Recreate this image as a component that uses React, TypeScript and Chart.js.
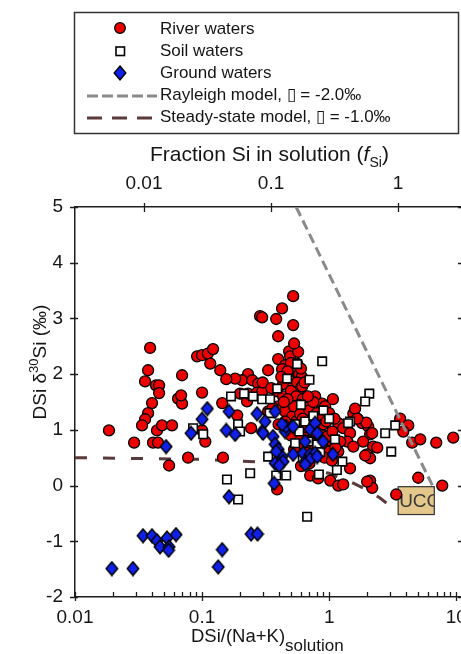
import React, { useEffect, useRef } from "react";
import { Chart, registerables } from "chart.js";

Chart.register(...registerables);

document.body.style.margin = "0";
document.body.style.overflow = "hidden";

// ---------- data ----------
const X_TICKS = [0.01, 0.1, 1, 10];
const TOP_TICKS = [0.01, 0.1, 1];
const Y_TICKS = [-2, -1, 0, 1, 2, 3, 4, 5];
const X_MIN = 0.01;
const X_MAX = 11.1;
const Y_MIN = -2;
const Y_MAX = 5;
const FSI_FACTOR = 3.49; // f_Si = DSi/(Na+K) / factor (top axis)

const riverWaters: [number, number][] = [
  [0.0185, 0.99], [0.039, 2.47], [0.0376, 2.07], [0.0356, 1.87], [0.0434, 1.8], [0.0459, 1.8],
  [0.0459, 1.66], [0.0404, 1.48], [0.0376, 1.3], [0.0356, 1.19], [0.0337, 1.08], [0.0292, 0.77],
  [0.0442, 0.99], [0.0484, 1.08], [0.058, 1.08], [0.0411, 0.77], [0.045, 0.77], [0.055, 0.36],
  [0.0696, 1.98], [0.0647, 1.56], [0.0696, 1.47], [0.0684, 1.62], [0.1, 1.67], [0.0914, 2.32],
  [0.1, 2.34], [0.111, 2.37], [0.122, 2.45], [0.116, 2.19], [0.139, 2.07], [0.144, 1.48],
  [0.106, 0.79], [0.0776, 0.5], [0.146, 0.5], [0.1, 0.99], [0.189, 1.26], [0.243, 1.03],
  [0.226, 1.51], [0.23, 2.0], [0.206, 1.89], [0.182, 1.92], [0.155, 1.91], [0.286, 3.04],
  [0.521, 3.4], [0.426, 3.18], [0.383, 2.99], [0.297, 3.02], [0.521, 2.88], [0.397, 2.68],
  [0.484, 2.41], [0.248, 1.89], [0.276, 1.83], [0.331, 2.07], [0.397, 2.27], [0.45, 2.16],
  [0.493, 2.32], [0.56, 2.19], [0.426, 2.09], [0.476, 1.94], [0.434, 1.82], [0.521, 1.78],
  [0.199, 1.65], [0.23, 1.65], [0.271, 1.67], [0.297, 1.69], [0.39, 1.69], [0.434, 1.6],
  [0.511, 1.51], [0.56, 1.65], [0.331, 1.33], [0.397, 1.42], [0.45, 1.33], [0.511, 1.24],
  [0.493, 1.06], [0.39, -0.07],
  [0.54, 2.05], [0.58, 2.0], [0.61, 1.95], [0.56, 1.85], [0.6, 1.75], [0.5, 1.7], [0.55, 1.6],
  [0.62, 1.55], [0.58, 1.45], [0.65, 1.4], [0.53, 1.42], [0.47, 1.55], [0.6, 1.3], [0.68, 1.25],
  [0.72, 1.2], [0.64, 1.15], [0.55, 1.15], [0.75, 1.1], [0.8, 1.05], [0.7, 1.0], [0.62, 0.95],
  [0.85, 0.95], [0.9, 0.9], [0.78, 0.85], [0.95, 0.8], [0.7, 0.8], [0.6, 0.75],
  [0.613, 1.78], [0.776, 1.6], [0.881, 1.47], [0.591, 1.28], [0.93, 1.42], [1.07, 1.55],
  [1.55, 1.29], [1.69, 1.19], [1.82, 1.12], [2.03, 1.06], [2.1, 0.92], [1.85, 0.79], [2.22, 0.7],
  [1.18, 1.12], [1.29, 1.03], [1.46, 0.94], [1.39, 0.79], [1.55, 0.7], [1.22, 0.79], [0.964, 0.88],
  [1.06, 0.97], [0.982, 0.61], [1.18, 0.61], [1.46, 0.31], [1.99, 0.56], [2.1, 0.49],
  [0.709, 0.18], [0.819, 0.13], [1.02, 0.09], [1.18, 0.0], [1.29, 0.02], [2.1, 0.09],
  [2.18, -0.04], [1.99, 0.07],
  [3.62, 1.2], [4.19, 1.08], [3.83, 0.97], [4.5, 0.77], [5.21, 0.83], [6.96, 0.77], [9.47, 0.86],
  [1.96, 1.13], [2.18, 0.94], [1.92, 0.54], [5.02, 0.14], [7.76, 0.0], [3.37, -0.16], [1.6, 1.38],
  [1.66, 1.2], [2.39, 0.68],
  [0.6, 2.1], [0.62, 1.2], [0.66, 1.05], [0.7, 1.35], [0.75, 1.5], [0.8, 1.3], [0.85, 1.2],
  [0.9, 1.1], [0.78, 0.95], [0.88, 0.75], [0.95, 1.15], [1.0, 1.3], [1.1, 1.2], [0.72, 0.7],
  [0.65, 0.6], [0.82, 0.55], [0.92, 0.5], [1.05, 0.45], [0.58, 0.85], [0.53, 0.65], [1.12, 0.68],
  [0.7, 0.4], [0.6, 0.35], [0.5, 0.9], [0.45, 1.15], [0.4, 1.1], [0.36, 1.4], [0.44, 1.5],
  [0.57, 2.4], [0.53, 2.55], [0.5, 2.2], [0.47, 2.05], [0.64, 1.85], [0.68, 1.6], [0.42, 1.95],
  [0.3, 1.85], [0.35, 1.75],
];

const soilWaters: [number, number][] = [
  [0.881, 2.23], [2.07, 1.65], [1.92, 1.51], [3.31, 1.08], [2.76, 0.94], [3.08, 0.61], [1.46, 1.15],
  [0.239, 0.22], [0.383, 0.18], [0.459, 0.18], [0.671, -0.56], [0.157, 0.11], [0.192, -0.25],
  [0.331, 0.52], [0.192, 1.1], [0.199, 0.97], [0.085, 1.03], [0.102, 0.92], [0.169, 1.6],
  [0.214, 1.65], [0.252, 1.6], [0.297, 1.55], [0.343, 1.55], [0.39, 1.74], [0.467, 1.92],
  [0.56, 2.18], [0.34, 1.3], [1.41, 1.12], [1.11, 0.83], [0.54, 1.1], [0.581, 0.97], [0.647, 1.15],
  [0.684, 0.79], [0.805, 0.74], [0.54, 0.76], [1.27, 0.43], [0.83, 0.2], [0.6, 1.45], [0.7, 1.9],
  [0.75, 1.25], [0.9, 1.35], [1.0, 1.2], [0.85, 0.6], [0.62, 0.5], [1.15, 0.28],
];

const groundWaters: [number, number][] = [
  [0.0195, -1.49], [0.0286, -1.49], [0.0343, -0.9], [0.0404, -0.9], [0.0442, -0.99], [0.0467, -1.1],
  [0.053, -0.94], [0.055, -1.1], [0.0545, -1.16], [0.0624, -0.88], [0.134, -1.46], [0.144, -1.15],
  [0.163, -0.2], [0.243, -0.87], [0.273, -0.87], [0.0521, 0.7], [0.11, 1.38], [0.1, 1.19],
  [0.0819, 0.94], [0.163, 1.33], [0.155, 0.99], [0.182, 0.92], [0.369, 0.04], [0.297, 0.97],
  [0.362, 0.88], [0.376, 0.74], [0.397, 0.65], [0.426, 0.52], [0.39, 0.43], [0.521, 0.56],
  [0.45, 0.97], [0.459, 1.06], [0.521, 1.06], [0.709, 1.01], [0.776, 1.12], [0.805, 0.94],
  [0.897, 0.79], [0.647, 0.79], [0.624, 0.58], [0.709, 0.56], [0.776, 0.58], [1.07, 0.56],
  [0.647, 0.43], [0.271, 1.29], [0.313, 1.15], [0.302, 0.94], [0.376, 1.33], [0.426, 1.1],
  [0.383, 0.61], [0.434, 0.43], [0.376, 0.4], [0.404, 0.36], [0.709, 0.47], [0.805, 0.52],
  [0.647, 0.38],
];

const rayleighModel: [number, number][] = [
  [0.55, 5.0], [6.5, 0.0],
];

const steadyStateModel: [number, number][] = [
  [0.01, 0.5], [0.1, 0.47], [0.3, 0.42], [0.6, 0.32], [1.0, 0.22], [1.5, 0.06], [2.0, -0.08],
  [2.5, -0.22], [3.0, -0.36], [3.45, -0.5],
];

const UCC_X: [number, number] = [3.49, 6.72];
const UCC_Y: [number, number] = [-0.52, -0.02];

// ---------- styles ----------
const FONT = "'Liberation Sans', Arial, Helvetica, sans-serif";
const RED = "#ec0000";
const BLUE = "#1020e6";
const GRAY = "#8a8a8a";
const BROWN = "#5a3a3a";
const AXIS = "#1e1e1e";
const TXT = "#151515";

const toPts = (a: [number, number][]) => a.map(([x, y]) => ({ x, y }));

function makeDiamond(): HTMLCanvasElement {
  const c = document.createElement("canvas");
  c.width = 14;
  c.height = 16;
  const g = c.getContext("2d")!;
  g.beginPath();
  g.moveTo(7, 1.2);
  g.lineTo(12.8, 8);
  g.lineTo(7, 14.8);
  g.lineTo(1.2, 8);
  g.closePath();
  g.fillStyle = BLUE;
  g.fill();
  g.lineWidth = 1.4;
  g.strokeStyle = "#000";
  g.stroke();
  return c;
}

const framePlugin = {
  id: "frameTicks",
  beforeDatasetsDraw(chart: any) {
    const { ctx, scales } = chart;
    const xs = scales.x, ys = scales.y;
    const x0 = xs.getPixelForValue(UCC_X[0]);
    const x1 = xs.getPixelForValue(UCC_X[1]);
    const y0 = ys.getPixelForValue(UCC_Y[1]);
    const y1 = ys.getPixelForValue(UCC_Y[0]);
    ctx.save();
    ctx.fillStyle = "#e4c78a";
    ctx.fillRect(x0, y0, x1 - x0, y1 - y0);
    ctx.strokeStyle = "#333";
    ctx.lineWidth = 1.2;
    ctx.strokeRect(x0, y0, x1 - x0, y1 - y0);
    ctx.beginPath();
    ctx.rect(x0, y0, x1 - x0, y1 - y0);
    ctx.clip();
    ctx.fillStyle = "#3a3a3a";
    ctx.font = `19px ${FONT}`;
    ctx.textBaseline = "middle";
    ctx.textAlign = "left";
    ctx.fillText("UCC", x0 + 1, (y0 + y1) / 2 + 1);
    ctx.restore();
  },
  afterDatasetsDraw(chart: any) {
    const { ctx, chartArea: a, scales } = chart;
    const xs = scales.x, xt = scales.xTop, ys = scales.y;
    ctx.save();
    ctx.strokeStyle = AXIS;
    ctx.lineWidth = 1.3;
    ctx.beginPath();
    for (let e = -2; e <= 1; e++) {
      for (let m = 1; m <= 9; m++) {
        const v = m * Math.pow(10, e);
        if (v < X_MIN - 1e-9 || v > X_MAX) continue;
        const px = Math.round(xs.getPixelForValue(v)) + 0.5;
        ctx.moveTo(px, a.bottom - 5);
        ctx.lineTo(px, a.bottom + (m === 1 ? 4 : 0));
      }
    }
    for (const v of TOP_TICKS) {
      const px = Math.round(xt.getPixelForValue(v)) + 0.5;
      ctx.moveTo(px, a.top - 4);
      ctx.lineTo(px, a.top + 5);
    }
    for (const v of Y_TICKS) {
      const py = Math.round(ys.getPixelForValue(v)) + 0.5;
      ctx.moveTo(a.left - 5, py);
      ctx.lineTo(a.left + 3, py);
      ctx.moveTo(a.right - 4, py);
      ctx.lineTo(a.right, py);
    }
    ctx.moveTo(a.right, a.top);
    ctx.lineTo(a.right, a.bottom);
    ctx.stroke();
    ctx.restore();
  },
};

export default function App() {
  const ref = useRef<HTMLCanvasElement | null>(null);

  useEffect(() => {
    if (!ref.current) return;
    const tickFont = { size: 19, family: FONT };
    const chart = new Chart(ref.current, {
      type: "scatter",
      data: {
        datasets: [
          {
            label: "Rayleigh model",
            data: toPts(rayleighModel),
            showLine: true,
            borderColor: GRAY,
            borderWidth: 3,
            borderDash: [10, 5],
            pointRadius: 0,
            order: 0,
          } as any,
          {
            label: "Ground waters",
            data: toPts(groundWaters),
            pointStyle: makeDiamond(),
            pointRadius: 7,
            order: 1,
          },
          {
            label: "Soil waters",
            data: toPts(soilWaters),
            pointStyle: "rect",
            pointRadius: 6,
            backgroundColor: "#ffffff",
            borderColor: "#000",
            borderWidth: 1.6,
            order: 2,
          },
          {
            label: "River waters",
            data: toPts(riverWaters),
            pointStyle: "circle",
            pointRadius: 5.5,
            backgroundColor: RED,
            borderColor: "#000",
            borderWidth: 1.3,
            order: 3,
          },
          {
            label: "Steady-state model",
            data: toPts(steadyStateModel),
            showLine: true,
            borderColor: BROWN,
            borderWidth: 3,
            borderDash: [12, 16],
            pointRadius: 0,
            order: 4,
          } as any,
        ],
      },
      options: {
        animation: false,
        responsive: false,
        maintainAspectRatio: false,
        events: [],
        layout: { padding: { left: 0, right: 28, top: 0, bottom: 0 } },
        plugins: { legend: { display: false }, tooltip: { enabled: false } },
        scales: {
          x: {
            type: "logarithmic",
            position: "bottom",
            min: X_MIN,
            max: X_MAX,
            afterBuildTicks: (s: any) => {
              s.ticks = X_TICKS.map((v) => ({ value: v }));
            },
            afterFit: (s: any) => {
              s.height = 57;
            },
            grid: { display: false, drawTicks: false },
            border: { display: true, color: AXIS, width: 1.5 },
            ticks: {
              autoSkip: false,
              maxRotation: 0,
              padding: 9,
              color: TXT,
              font: tickFont,
              callback: (v: any) => String(v),
            },
          },
          xTop: {
            type: "logarithmic",
            position: "top",
            min: X_MIN / FSI_FACTOR,
            max: X_MAX / FSI_FACTOR,
            afterBuildTicks: (s: any) => {
              s.ticks = TOP_TICKS.map((v) => ({ value: v }));
            },
            afterFit: (s: any) => {
              s.height = 207;
            },
            grid: { display: false, drawTicks: false },
            border: { display: true, color: AXIS, width: 1.5 },
            ticks: {
              autoSkip: false,
              maxRotation: 0,
              padding: 12,
              color: TXT,
              font: tickFont,
              callback: (v: any) => String(v),
            },
          },
          y: {
            type: "linear",
            position: "left",
            min: Y_MIN,
            max: Y_MAX,
            afterBuildTicks: (s: any) => {
              s.ticks = Y_TICKS.map((v) => ({ value: v }));
            },
            afterFit: (s: any) => {
              s.width = 75;
            },
            grid: { display: false, drawTicks: false },
            border: { display: true, color: AXIS, width: 1.5 },
            ticks: {
              padding: 12,
              color: TXT,
              font: tickFont,
              callback: (v: any) => String(v),
            },
          },
        },
      } as any,
      plugins: [framePlugin],
    });
    return () => chart.destroy();
  }, []);

  const legendText = { fontSize: 17, fill: TXT };

  return (
    <div style={{ position: "relative", width: 461, height: 654, overflow: "hidden", background: "#fff" }}>
      <canvas ref={ref} width={490} height={654} style={{ position: "absolute", left: 0, top: 0, width: 490, height: 654 }} />
      <svg
        width={461}
        height={654}
        style={{ position: "absolute", left: 0, top: 0, pointerEvents: "none" }}
        fontFamily={FONT}
      >
        <rect x={74.5} y={12.5} width={384} height={121} fill="#fff" stroke="#333" strokeWidth={1.5} />
        <circle cx={120} cy={28} r={5.3} fill={RED} stroke="#000" strokeWidth={1.3} />
        <rect x={116} y={47} width={8.5} height={8.5} fill="#fff" stroke="#000" strokeWidth={1.6} />
        <polygon points="120,66 125.8,73 120,80 114.2,73" fill={BLUE} stroke="#000" strokeWidth={1.4} />
        <line x1={87} y1={96} x2={157} y2={96} stroke={GRAY} strokeWidth={3} strokeDasharray="11 4" />
        <line x1={87} y1={118} x2={157} y2={118} stroke={BROWN} strokeWidth={3} strokeDasharray="15 10" />
        <text x={160} y={34} {...legendText}>River waters</text>
        <text x={160} y={56} {...legendText}>Soil waters</text>
        <text x={160} y={78} {...legendText}>Ground waters</text>
        <text x={160} y={100} {...legendText}>Rayleigh model, ▯ = -2.0‰</text>
        <text x={160} y={122} {...legendText}>Steady-state model, ▯ = -1.0‰</text>

        <text x={150} y={161} fontSize={21} fill={TXT}>
          Fraction Si in solution (<tspan fontStyle="italic">f</tspan>
          <tspan fontSize={14} dy={6}>Si</tspan>
          <tspan dy={-6}>)</tspan>
        </text>

        <text x={191} y={642} fontSize={18.5} fill={TXT}>
          DSi/(Na+K)<tspan fontSize={17} dy={9}>solution</tspan>
        </text>

        <text
          x={362}
          y={46}
          fontSize={19}
          fill={TXT}
          textAnchor="middle"
          transform="rotate(-90) translate(-724 0)"
        >
          DSi δ<tspan fontSize={13} dy={-8}>30</tspan>
          <tspan dy={8}>Si (‰)</tspan>
        </text>
      </svg>
    </div>
  );
}
